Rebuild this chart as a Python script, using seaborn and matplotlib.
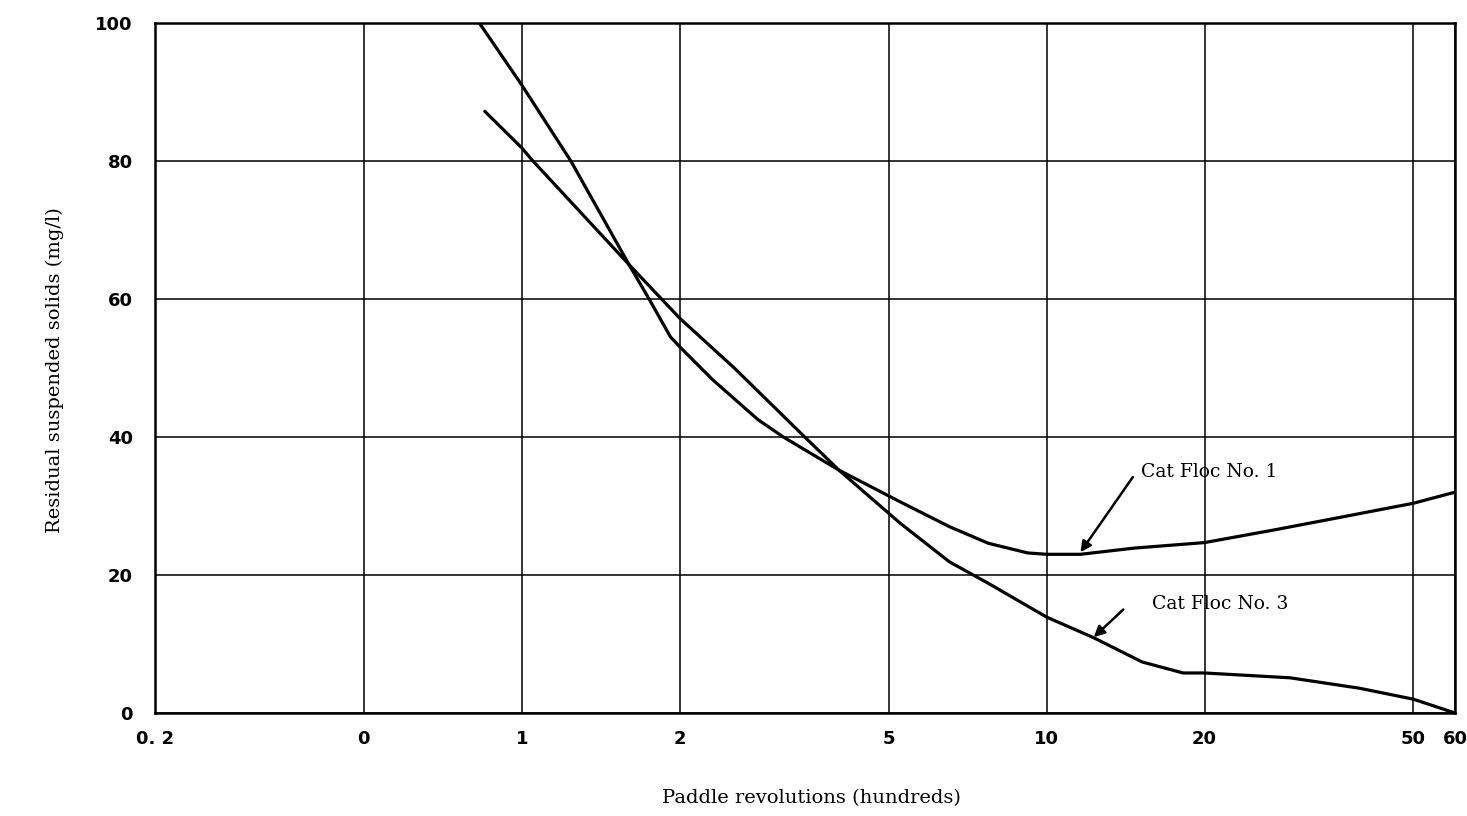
import matplotlib
matplotlib.use("Agg")
import matplotlib.pyplot as plt
import seaborn as sns
import pandas as pd

# Paddle revolutions (hundreds) and residual suspended solids (mg/l)
x_floc1 = [0.85, 1.0, 1.05, 1.60, 2.0, 2.54, 3.46, 4.02, 5.26, 6.53, 7.74, 9.2, 10.0, 11.6, 14.7, 20.0, 27.0, 36.5, 50.0, 60.0]
y_floc1 = [87.2, 81.9, 80.0, 65.0, 57.2, 50.0, 40.0, 35.2, 30.6, 27.0, 24.6, 23.2, 23.0, 23.0, 23.9, 24.7, 26.5, 28.4, 30.4, 32.0]

x_floc3 = [0.83, 1.0, 1.24, 1.60, 1.76, 1.92, 2.01, 2.31, 2.82, 3.15, 4.02, 5.26, 6.53, 7.74, 10.0, 12.3, 15.2, 18.2, 20.0, 29.1, 39.4, 50.0, 60.0]
y_floc3 = [100.0, 91.0, 80.0, 65.0, 59.6, 54.5, 52.9, 48.3, 42.5, 40.0, 35.2, 27.5, 21.9, 18.8, 13.9, 10.9, 7.4, 5.8, 5.8, 5.1, 3.6, 2.0, 0.0]

x_ticks = [0.2, 0.5, 1, 2, 5, 10, 20, 50, 60]
x_tick_labels = ["0. 2", "0", "1", "2", "5", "10", "20", "50", "60"]
y_ticks = [0, 20, 40, 60, 80, 100]
y_tick_labels = ["0", "20", "40", "60", "80", "100"]

series_names = ["Cat Floc No. 1", "Cat Floc No. 3"]

df = pd.concat([
    pd.DataFrame({"x": x_floc1, "y": y_floc1, "series": series_names[0]}),
    pd.DataFrame({"x": x_floc3, "y": y_floc3, "series": series_names[1]}),
], ignore_index=True)

sns.set_theme(style="white")
plt.rcParams["font.family"] = ["DejaVu Sans"]
plt.rcParams["text.color"] = "black"

fig = plt.figure(figsize=(14.67, 8.16), dpi=100)
ax = fig.add_axes([155 / 1467, 1 - 713 / 816, 1300 / 1467, 690 / 816])

sns.lineplot(data=df, x="x", y="y", hue="series", palette=["black", "black"],
             estimator=None, sort=False, linewidth=2.3, legend=False, ax=ax)

ax.set_xscale("log")
ax.set_xlim(0.2, 60)
ax.set_ylim(0, 100)
ax.set_xticks(x_ticks)
ax.set_xticklabels(x_tick_labels)
ax.minorticks_off()
ax.set_yticks(y_ticks)
ax.set_yticklabels(y_tick_labels)
ax.set_xlabel("")
ax.set_ylabel("")
ax.tick_params(axis="both", length=0, labelsize=13, colors="black")
ax.tick_params(axis="y", pad=16)
ax.tick_params(axis="x", pad=12)
for lab in ax.get_xticklabels() + ax.get_yticklabels():
    lab.set_fontweight("bold")

ax.grid(True, which="major", color="black", linewidth=1.1)
for s in ax.spines.values():
    s.set_visible(True)
    s.set_color("black")
    s.set_linewidth(1.8)

fig.text(811 / 1467, 1 - 798 / 816, "Paddle revolutions (hundreds)", family="DejaVu Serif",
         fontsize=14, ha="center", va="center", color="black")
fig.text(55 / 1467, 1 - 370 / 816, "Residual suspended solids (mg/l)", family="DejaVu Serif",
         fontsize=14, ha="center", va="center", rotation=90, color="black")

# labels and arrows
ax.text(15.1, 34.9, series_names[0], family="DejaVu Serif", fontsize=13.5,
        ha="left", va="center", color="black")
ax.annotate("", xy=(11.6, 23.3), xytext=(14.6, 34.2),
            arrowprops=dict(arrowstyle="-|>", color="black", lw=1.8,
                            shrinkA=0, shrinkB=0, mutation_scale=16))
ax.text(15.9, 15.8, series_names[1], family="DejaVu Serif", fontsize=13.5,
        ha="left", va="center", color="black")
ax.annotate("", xy=(12.3, 11.0), xytext=(14.0, 15.0),
            arrowprops=dict(arrowstyle="-|>", color="black", lw=1.8,
                            shrinkA=0, shrinkB=0, mutation_scale=16))

fig.savefig("out.png", dpi=100, facecolor="white")
